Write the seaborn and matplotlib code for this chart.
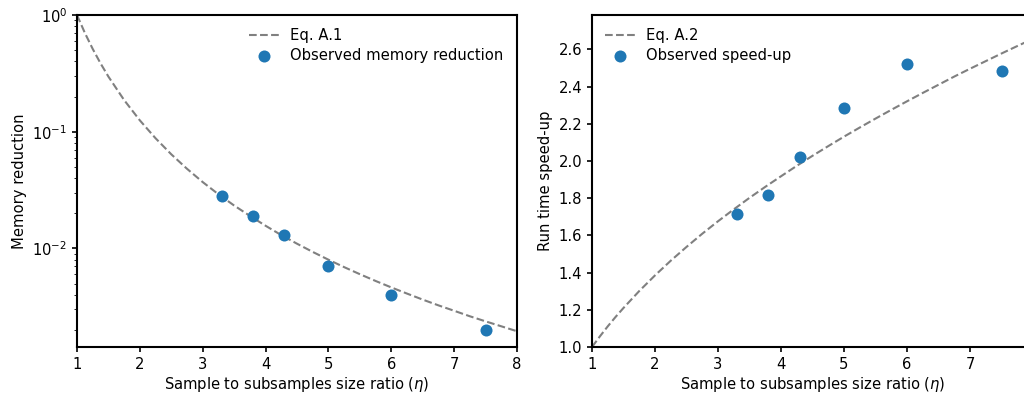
import matplotlib

matplotlib.use("Agg")

import matplotlib.pyplot as plt
import pandas as pd
import seaborn as sns

# curve sample positions (eta) and values
eta_curve = [1.0, 1.125, 1.25, 1.375, 1.5, 1.75, 2.0, 2.25, 2.5, 2.75, 3.0, 3.25, 3.5,
             3.75, 4.0, 4.25, 4.5, 4.75, 5.0, 5.25, 5.5, 5.75, 6.0, 6.25, 6.5,
             6.75, 7.0, 7.25, 7.5, 7.75, 8.0]
memory_curve = [1.0, 0.702, 0.512, 0.3846, 0.2963, 0.1866, 0.125, 0.0878, 0.064, 0.0481,
                0.0370, 0.0291, 0.0233, 0.0190, 0.01563, 0.0130, 0.01097, 0.00933,
                0.0080, 0.00691, 0.00601, 0.00526, 0.00463, 0.00410, 0.00364,
                0.00325, 0.00292, 0.00262, 0.00237, 0.00215, 0.00195]
speedup_curve = [1.000, 1.057, 1.111, 1.162, 1.210, 1.301, 1.385, 1.464, 1.538, 1.609,
                 1.676, 1.740, 1.802, 1.861, 1.918, 1.974, 2.028, 2.080, 2.131,
                 2.180, 2.228, 2.275, 2.321, 2.366, 2.410, 2.454, 2.496, 2.537,
                 2.578, 2.618, 2.657]

# observed points
eta_obs = [3.3, 3.8, 4.3, 5.0, 6.0, 7.5]
memory_obs = [0.028, 0.019, 0.013, 0.007, 0.004, 0.002]
speedup_obs = [1.713, 1.815, 2.023, 2.285, 2.520, 2.486]

sns.set_style("ticks")
plt.rcParams["font.family"] = ["DejaVu Sans"]
plt.rcParams["font.size"] = 10.6
plt.rcParams["axes.labelsize"] = 10.6
plt.rcParams["xtick.labelsize"] = 10.6
plt.rcParams["ytick.labelsize"] = 10.6
plt.rcParams["legend.fontsize"] = 10.6
plt.rcParams["axes.linewidth"] = 1.5
plt.rcParams["xtick.major.width"] = 1.2
plt.rcParams["ytick.major.width"] = 1.2
plt.rcParams["axes.edgecolor"] = "black"
plt.rcParams["axes.labelcolor"] = "black"
plt.rcParams["text.color"] = "black"
plt.rcParams["xtick.color"] = "black"
plt.rcParams["ytick.color"] = "black"

curve = pd.DataFrame({"eta": eta_curve, "memory": memory_curve, "speedup": speedup_curve})
obs = pd.DataFrame({"eta": eta_obs, "memory": memory_obs, "speedup": speedup_obs})

fig = plt.figure(figsize=(10.24, 3.95), dpi=100)
W, H = 1024, 395
ax1 = fig.add_axes([77 / W, 1 - 347 / H, 440 / W, 332 / H])
ax2 = fig.add_axes([592 / W, 1 - 347 / H, 441 / W, 332 / H])

line_kw = dict(color="gray", linestyle="--", linewidth=1.5)
dot_kw = dict(color="#1f77b4", s=75, linewidth=0, zorder=3)

sns.lineplot(data=curve, x="eta", y="memory", ax=ax1, label="Eq. A.1", **line_kw)
sns.scatterplot(data=obs, x="eta", y="memory", ax=ax1, label="Observed memory reduction", **dot_kw)
ax1.set_yscale("log")
ax1.set_xlim(1, 8)
ax1.set_ylim(10 ** -2.845, 1)
ax1.set_xlabel("Sample to subsamples size ratio ($\\eta$)", labelpad=2)
ax1.set_ylabel("Memory reduction")
ax1.legend(loc="upper right", frameon=False, labelspacing=0.3)

sns.lineplot(data=curve, x="eta", y="speedup", ax=ax2, label="Eq. A.2", **line_kw)
sns.scatterplot(data=obs, x="eta", y="speedup", ax=ax2, label="Observed speed-up", **dot_kw)
ax2.set_xlim(1, 8)
ax2.set_ylim(1.0, 2.785)
ax2.set_xticks([1, 2, 3, 4, 5, 6, 7])
ax2.set_yticks([1.0, 1.2, 1.4, 1.6, 1.8, 2.0, 2.2, 2.4, 2.6])
ax2.set_xlabel("Sample to subsamples size ratio ($\\eta$)", labelpad=2)
ax2.set_ylabel("Run time speed-up")
ax2.legend(loc="upper left", frameon=False, labelspacing=0.3)

fig.savefig("out.png", dpi=100)
plt.close(fig)
